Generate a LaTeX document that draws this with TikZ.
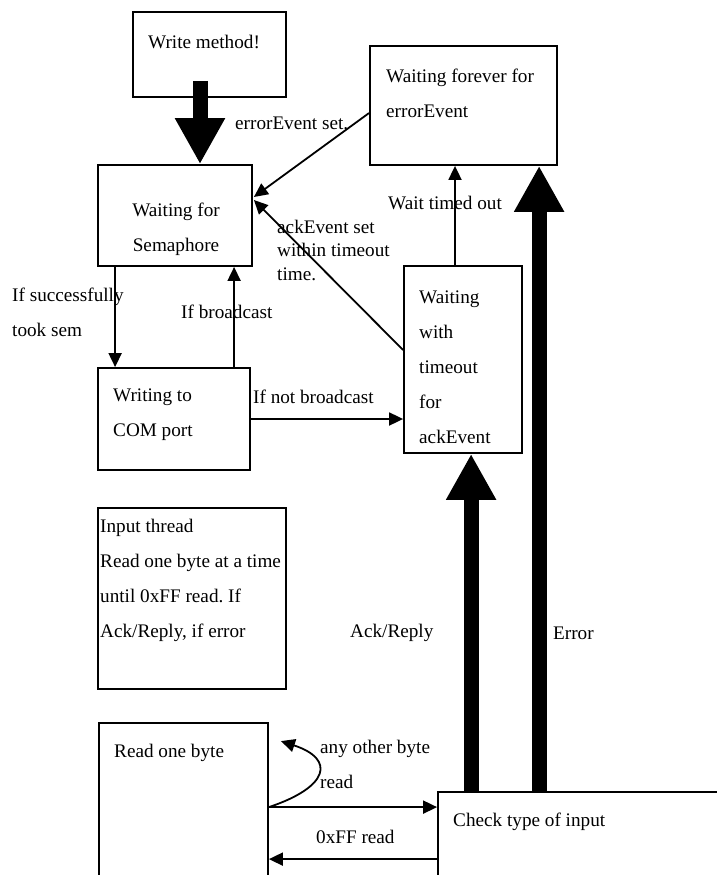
\documentclass[tikz,border=0pt]{standalone}
\usepackage{fontspec}
\setmainfont{Liberation Serif}
\frenchspacing
\usepackage{tikz}
\usetikzlibrary{
  arrows.meta,
  positioning,
  calc
}
\definecolor{inkStroke}{HTML}{000000}
\tikzset{
  box/.style={
    rectangle, draw=inkStroke, line width=1.8pt, inner sep=0pt
  },
  txt/.style={
    anchor=west, align=left, inner sep=0pt,
    font=\fontsize{19.2}{35}\selectfont
  },
  arr/.style={-{Triangle[length=14pt,width=13pt]},
    line width=1.8pt, draw=inkStroke},
  fat arr/.style={-{Triangle[length=46pt,width=47pt]},
    line width=15pt, draw=inkStroke}
}

\begin{document}
\begin{tikzpicture}[x=1pt, y=-1pt]
    \useasboundingbox (0,0) rectangle (717,875);
    \clip (0,0) rectangle (717,875);

    % state boxes
    \node[box, minimum width=153pt, minimum height=85pt] (wm) at (209.5,54.5) {};
    \node[box, minimum width=187pt, minimum height=119pt] (forever) at (463.5,105.5) {};
    \node[box, minimum width=154pt, minimum height=101pt] (sem) at (175,215.5) {};
    \node[box, minimum width=152pt, minimum height=102pt] (wrt) at (174,419) {};
    \node[box, minimum width=118pt, minimum height=187pt] (wto) at (463,359.5) {};
    \node[box, minimum width=188pt, minimum height=181pt] (inp) at (192,598.5) {};
    \node[box, minimum width=169pt, minimum height=182pt] (rd) at (183.5,814) {};
    \node[box, minimum width=302pt, minimum height=113pt] (chk) at (589,848.5) {};

    % box texts
    \node[txt] (wmT) at (148,42) {Write method!};
    \node[txt] (foreverT) at (386,93) {Waiting forever for\\errorEvent};
    \node[txt, align=center, anchor=center] (semT) at (176,229) {Waiting for\\Semaphore};
    \node[txt] (wrtT) at (113,415) {Writing to\\COM port};
    \node[txt] (wtoT) at (419,367) {Waiting\\with\\timeout\\for\\ackEvent};
    \node[txt] (inpT) at (100,580) {Input thread\\Read one byte at a time\\until 0xFF read. If\\Ack/Reply, if error};
    \node[txt] (rdT) at (114,753) {Read one byte};
    \node[txt] (chkT) at (453,822) {Check type of input};

    % entry and exit points
    \coordinate (wmOut) at ($(wm.south)+(-9.5,-17)$);
    \coordinate (wtoUp) at ($(wto.north)+(-8,0)$);
    \coordinate (semDn) at ($(sem.south west)+(18,0)$);
    \coordinate (wrtUp) at ($(wrt.north west)+(137,0)$);
    \coordinate (rdOut) at ($(rd.north east)+(0,85)$);
    \coordinate (chkBack) at ($(chk.north west)+(0,68)$);
    \coordinate (ackUp) at ($(chk.north west)+(34,0)$);
    \coordinate (errUp) at ($(chk.north west)+(102,0)$);

    % transitions
    \draw[fat arr] (wmOut) -- (wmOut |- sem.north);
    \draw[arr] ($(forever.west)+(0,7.5)$) -- ($(sem.east)+(1,-18.5)$);
    \draw[arr] ($(wto.west)+(0,-9.5)$) -- ($(sem.east)+(1,-15.5)$);
    \draw[arr] (wtoUp) -- (wtoUp |- forever.south);
    \draw[arr] (semDn) -- (semDn |- wrt.north);
    \draw[arr] (wrtUp) -- (wrtUp |- sem.south);
    \draw[arr] (wrt.east) -- (wrt.east -| wto.west);
    \draw[arr] (rdOut) .. controls +(60,-20) and +(55,18) .. ($(rdOut)+(12,-66)$);
    \draw[arr] (rdOut) -- (rdOut -| chk.west);
    \draw[arr] (chkBack) -- (chkBack -| rd.east);
    \draw[fat arr] (ackUp) -- (ackUp |- wto.south);
    \draw[fat arr] (errUp) -- (errUp |- forever.south);

    % transition labels
    \node[txt] (lErr) at (235,123) {errorEvent set.};
    \node[txt, font=\fontsize{19.2}{23.5}\selectfont] (lAck) at (277,250) {ackEvent set\\within timeout\\time.};
    \node[txt] (lTimed) at (388,203) {Wait timed out};
    \node[txt] (lTook) at (12,312) {If successfully\\took sem};
    \node[txt] (lBcast) at (181,312) {If broadcast};
    \node[txt] (lNoBcast) at (253,397) {If not broadcast};
    \node[txt] (lAckRep) at (350,633) {Ack/Reply};
    \node[txt] (lError) at (553,633) {Error};
    \node[txt] (lOther) at (320,764) {any other byte\\read};
    \node[txt] (lFF) at (316,837) {0xFF read};

  \end{tikzpicture}
\end{document}
